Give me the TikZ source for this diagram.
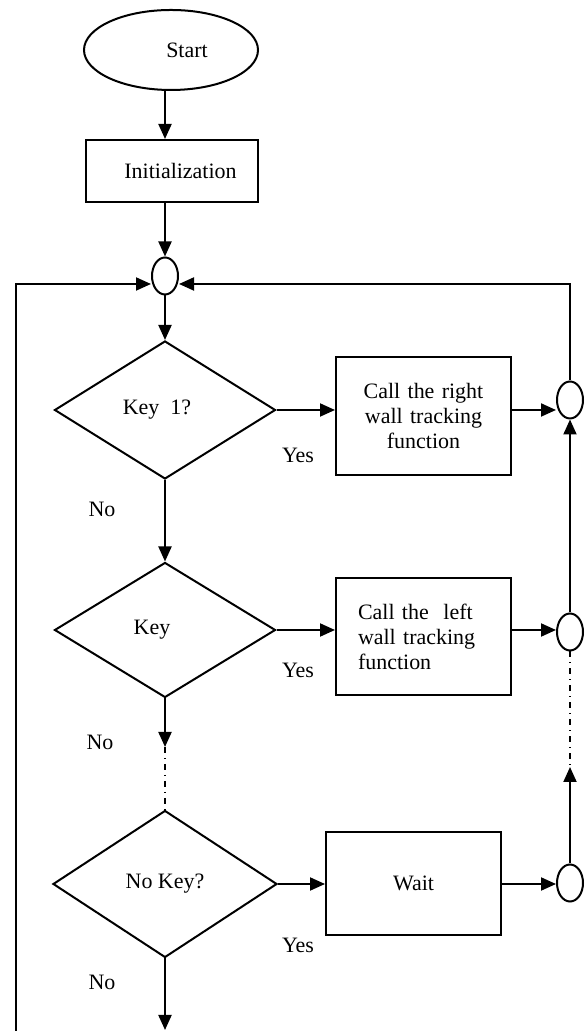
\documentclass[tikz,border=0pt]{standalone}
\usepackage{fontspec}
\setmainfont{Liberation Serif}
\usetikzlibrary{shapes.geometric,arrows.meta}
\begin{document}
\begin{tikzpicture}[line width=0.04cm,
    every node/.style={font=\fontsize{12.5}{14.2}\selectfont},
    term/.style={draw,ellipse,minimum width=3.48cm,minimum height=1.6cm,inner sep=0pt},
    proc/.style={draw,rectangle,minimum width=3.50cm,inner xsep=0.44cm,text width=2.62cm},
    dec/.style={draw,diamond,minimum width=4.42cm,minimum height=2.76cm,inner sep=0pt},
    junc/.style={draw,ellipse,minimum width=0.52cm,minimum height=0.74cm,inner sep=0pt},
    arr/.style={-{Triangle[length=0.3cm,width=0.26cm]}},
    dotline/.style={line width=0.03cm,dash pattern=on 0.12cm off 0.1cm on 0.02cm off 0.1cm}]
                \useasboundingbox (0,0) rectangle (11.68,20.62);
                
                % Drawing start and initialization
                \node [term] (start) at (3.42,19.62) {\hspace*{0.64cm}Start};%
                \node [proc,align=center,minimum width=3.44cm,inner xsep=0.22cm,text width=3.0cm,minimum height=1.24cm] (init) at (3.44,17.20) {\hspace*{0.34cm}Initialization};%
                \node [junc] (junc0) at (3.30,15.10) {};%
                
                % Drawing decisions
                \node [dec] (dec1) at (3.30,12.42) {Key\ \ 1?\hspace*{0.32cm}};%
                \node [dec,minimum height=2.70cm] (dec2) at (3.30,8.02) {Key\hspace*{0.52cm}};%
                \node [dec,minimum width=4.48cm,minimum height=2.94cm] (dec3) at (3.30,2.94) {No Key?};%
                
                % Drawing actions
                \node [proc,align=center,minimum height=2.36cm] (box1) at (8.47,12.30) {Call the right\\wall tracking\\function};%
                \node [proc,align=left,minimum height=2.34cm] (box2) at (8.47,7.89) {Call the\ \ left\\wall tracking\\function};%
                \node [proc,align=center,minimum height=2.06cm] (box3) at (8.27,2.95) {Wait};%
                
                % Drawing junctions on the right
                \node [junc] (junc1) at (11.40,12.62) {};%
                \node [junc] (junc2) at (11.40,7.98) {};%
                \node [junc] (junc3) at (11.40,2.96) {};%
                
                % Corner points
                \coordinate (ltop) at (0.32,14.94);%
                \coordinate (lbot) at (0.32,0);%
                \coordinate (rtop) at (11.40,14.94);%
                \coordinate (dotA) at (3.30,5.68);%
                \coordinate (dotB) at (11.40,5.28);%
                \coordinate (out) at (3.30,0.02);%
                
                % Drawing main column
                \draw [arr] (junc0 |- start.south) -- (junc0 |- init.north);%
                \draw [arr] (junc0 |- init.south) -- (junc0.north);%
                \draw [arr] (junc0.south) -- (dec1.north);%
                \draw [arr] (dec1.south) -- (dec2.north);%
                \draw [arr] (dec2.south) -- (dotA);%
                \draw [dotline] (dotA) -- (dec3.north);%
                \draw [arr] (dec3.south) -- (out);%
                
                % Drawing rows
                \draw [arr] (dec1.east) -- (dec1.east -| box1.west);%
                \draw [arr] (dec1.east -| box1.east) -- (dec1.east -| junc1.west);%
                \draw [arr] (dec2.east) -- (dec2.east -| box2.west);%
                \draw [arr] (dec2.east -| box2.east) -- (dec2.east -| junc2.west);%
                \draw [arr] (dec3.east) -- (dec3.east -| box3.west);%
                \draw [arr] (dec3.east -| box3.east) -- (dec3.east -| junc3.west);%
                
                % Drawing right column
                \draw [arr] (junc2.north) -- (junc1.south);%
                \draw [dotline] (junc2.south) -- (dotB);%
                \draw [arr] (junc3.north) -- (dotB);%
                
                % Drawing loops back
                \draw [arr] (lbot) -- (ltop) -- (ltop -| junc0.west);%
                \draw [arr] (junc1.north) -- (rtop) -- (rtop -| junc0.east);%
                
                % Labels
                \node (yes1) at (5.96,11.52) {Yes};%
                \node (yes2) at (5.96,7.22) {Yes};%
                \node (yes3) at (5.96,1.72) {Yes};%
                \node (no1) at (2.04,10.44) {No};%
                \node (no2) at (2.00,5.78) {No};%
                \node (no3) at (2.04,0.98) {No};%
            \end{tikzpicture}
\end{document}
